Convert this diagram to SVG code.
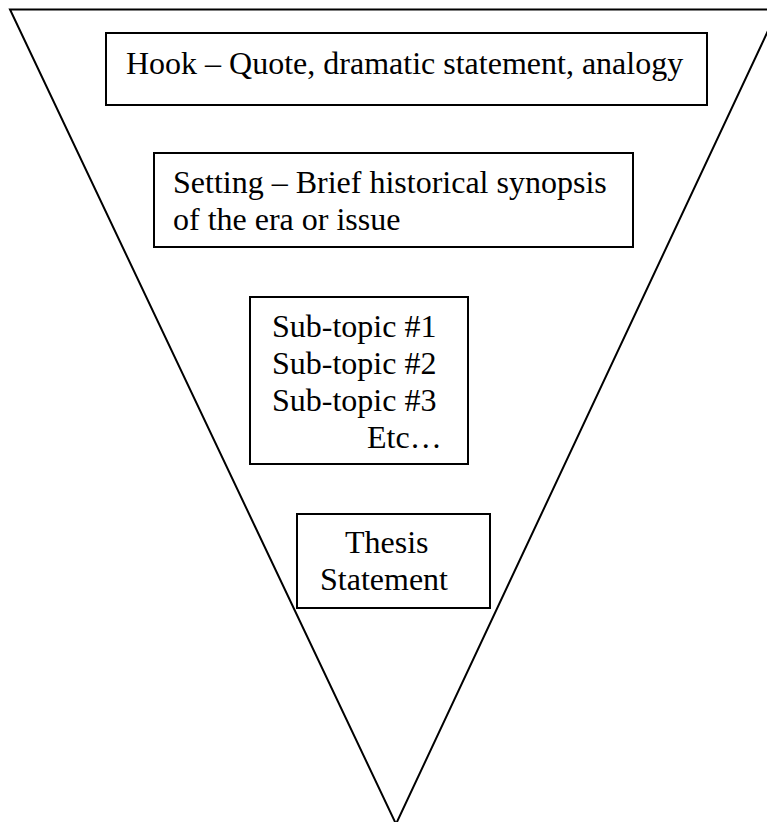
<svg xmlns="http://www.w3.org/2000/svg" width="767" height="822" viewBox="0 0 767 822">
<style>
.box{fill:#fff;stroke:#000;stroke-width:2}
.tri{fill:#fff;stroke:#000;stroke-width:2}
text{font-family:"Liberation Serif","Times New Roman",serif;font-size:32px;fill:#000}
</style>
<rect width="767" height="822" fill="#fff"/>
<path id="funnel" class="tri" d="M10,9.5 L778,9.5 L396,824 Z"/>
<g id="hook">
<rect class="box" x="106" y="33" width="601" height="72"/>
<text x="126" y="74">Hook – Quote, dramatic statement, analogy</text>
</g>
<g id="setting">
<rect class="box" x="154" y="153" width="479" height="94"/>
<text x="173" y="193">Setting – Brief historical synopsis</text>
<text x="173" y="230">of the era or issue</text>
</g>
<g id="subtopics">
<rect class="box" x="250" y="297" width="218" height="167"/>
<text x="272" y="337">Sub-topic #1</text>
<text x="272" y="374">Sub-topic #2</text>
<text x="272" y="411">Sub-topic #3</text>
<text x="367" y="448">Etc…</text>
</g>
<g id="thesis">
<rect class="box" x="297" y="514" width="193" height="94"/>
<text x="345" y="553">Thesis</text>
<text x="320" y="590">Statement</text>
</g>
</svg>
